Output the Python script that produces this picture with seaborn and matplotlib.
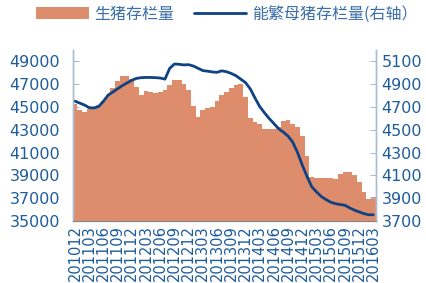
import numpy as np
import pandas as pd
import matplotlib
matplotlib.use("Agg")
import matplotlib.pyplot as plt
import seaborn as sns
from matplotlib.ticker import FixedLocator
from matplotlib.patches import Patch
from matplotlib.lines import Line2D

# ---- data ----
months = [p.strftime("%Y%m") for p in pd.period_range("2010-12", "2016-03", freq="M")]

hog_stock = [45300, 44700, 44600, 44800, 45000, 45200, 45500, 46100, 46650, 47250,
             47700, 47750, 47450, 46750, 46050, 46400, 46350, 46250, 46350, 46500,
             46950, 47400, 47350, 47050, 46500, 45050, 44150, 44750, 44900, 45000,
             45500, 46050, 46350, 46650, 46950, 47000, 45900, 44000, 43700, 43500,
             43100, 43050, 43100, 43250, 43750, 43850, 43550, 43250, 42500, 40700,
             38850, 38800, 38800, 38800, 38750, 38700, 39100, 39300, 39300, 39000,
             38450, 37550, 36900, 37150]

sow_stock = [4752, 4735, 4718, 4695, 4692, 4705, 4750, 4805, 4832, 4860,
             4888, 4912, 4935, 4952, 4958, 4960, 4960, 4958, 4955, 4945,
             5040, 5078, 5075, 5070, 5072, 5060, 5040, 5020, 5015, 5008,
             5005, 5018, 5010, 4995, 4975, 4945, 4915, 4860, 4780, 4705,
             4650, 4600, 4555, 4510, 4480, 4445, 4390, 4300, 4190, 4090,
             4000, 3955, 3915, 3888, 3865, 3852, 3845, 3838, 3815, 3795,
             3780, 3765, 3755, 3755]

tick_labels = ["201012", "201103", "201106", "201109", "201112", "201203", "201206",
               "201209", "201212", "201303", "201306", "201309", "201312", "201403",
               "201406", "201409", "201412", "201503", "201506", "201509", "201512",
               "201603"]

left_ticks = [35000, 37000, 39000, 41000, 43000, 45000, 47000, 49000]
right_ticks = [3700, 3900, 4100, 4300, 4500, 4700, 4900, 5100]

legend_labels = ["生猪存栏量", "能繁母猪存栏量(右轴）"]

df = pd.DataFrame({"month": months, "hog": hog_stock, "sow": sow_stock})
df["idx"] = np.arange(len(df))

# ---- style ----
sns.set_style("white")
plt.rcParams["font.family"] = ["DejaVu Sans", "Noto Sans CJK SC"]

bar_color = "#DE8D6C"
line_color = "#0E4283"
tick_color = "#1E5C9C"
spine_color = "#A8BCD2"

fig = plt.figure(figsize=(4.27, 2.83), dpi=100)
ax = fig.add_axes([0.170, 0.219, 0.710, 0.604])

sns.barplot(data=df, x="month", y="hog", color=bar_color, width=1.0,
            saturation=1, edgecolor="none", linewidth=0, ax=ax)
ax.set_ylim(35000, 50000)
ax.set_xlim(-0.5, len(months) - 0.5)

ax2 = ax.twinx()
sns.lineplot(data=df, x="idx", y="sow", color=line_color, linewidth=2.0, ax=ax2)
ax2.set_ylim(3700, 5200)
ax2.set_xlim(-0.5, len(months) - 0.5)

# x ticks: labels every 3 months, tick marks between groups
label_pos = [months.index(t) for t in tick_labels]
ax.xaxis.set_major_locator(FixedLocator(label_pos))
ax.set_xticklabels(tick_labels, rotation=90)
ax.xaxis.set_minor_locator(FixedLocator([p + 2.5 for p in label_pos[:-1]] + [len(months) - 0.5]))
ax.tick_params(axis="x", which="major", length=0, pad=3, labelsize=10.5,
               labelcolor=tick_color)
ax.tick_params(axis="x", which="minor", direction="in", length=4, width=0.8,
               color="#888888", bottom=True)

ax.set_yticks(left_ticks)
ax.set_yticklabels([str(v) for v in left_ticks])
ax.tick_params(axis="y", direction="in", length=4, width=0.8, color=spine_color,
               pad=9, labelsize=11.5, labelcolor=tick_color, left=True)
ax2.set_yticks(right_ticks)
ax2.set_yticklabels([str(v) for v in right_ticks])
ax2.tick_params(axis="y", direction="in", length=4, width=0.8, color=spine_color,
                pad=4, labelsize=11.5, labelcolor=tick_color, right=True)

ax.set_xlabel("")
ax.set_ylabel("")
ax2.set_xlabel("")
ax2.set_ylabel("")

for a in (ax, ax2):
    a.spines["top"].set_visible(False)
    a.spines["left"].set_color(spine_color)
    a.spines["right"].set_color(spine_color)
    a.spines["bottom"].set_color("#888888")
    a.spines["left"].set_linewidth(1.0)
    a.spines["right"].set_linewidth(1.0)
    a.spines["bottom"].set_linewidth(0.8)

# legend
handles = [Patch(facecolor=bar_color, edgecolor="none"),
           Line2D([0], [0], color=line_color, linewidth=2.0)]
leg = fig.legend(handles, legend_labels, loc="center left",
                 bbox_to_anchor=(0.07, 0.95), ncol=2, frameon=False,
                 handlelength=3.3, handleheight=0.7, handletextpad=0.35,
                 columnspacing=1.2, borderaxespad=0,
                 prop={"family": ["Noto Sans CJK SC", "DejaVu Sans"], "size": 11.5})
for t in leg.get_texts():
    t.set_color("#3A6EA8")

fig.savefig("out.png", dpi=100)
